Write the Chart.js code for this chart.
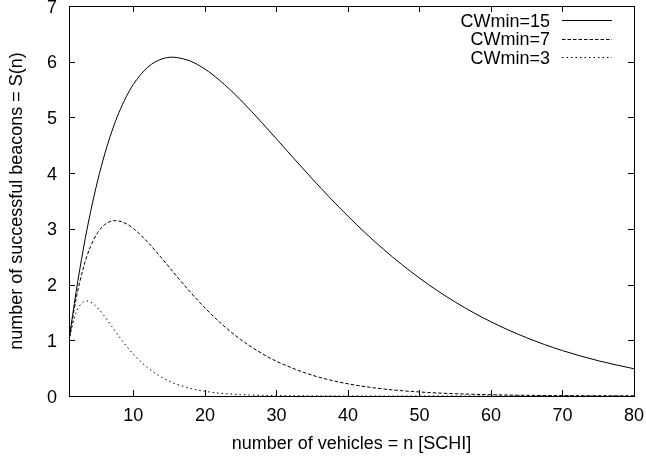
<!DOCTYPE html>
<html>
<head>
<meta charset="utf-8">
<script src="https://cdn.jsdelivr.net/npm/chart.js@4.4.1/dist/chart.umd.min.js"></script>
<style>
  html, body { margin: 0; padding: 0; background: #fff; }
  #wrap { width: 646px; height: 456px; position: relative; }
</style>
</head>
<body>
<div id="wrap"><canvas id="chart"></canvas></div>
<script>
// number of vehicles n (x axis)
const nValues = [1, 2, 3, 3.5, 4, 5, 6, 7, 7.5, 8, 9, 10, 12, 14, 15.5, 16, 18, 20, 22, 25, 28, 30,
                 35, 40, 45, 50, 55, 60, 65, 70, 75, 80];

// successful beacons S(n)
const cw15 = [1, 1.875, 2.637, 2.979, 3.296, 3.862, 4.345, 4.753, 4.931, 5.092, 5.370, 5.594, 5.901, 6.050,
              6.081, 6.077, 6.009, 5.868, 5.673, 5.313, 4.901, 4.616, 3.900, 3.228, 2.630, 2.117, 1.686,
              1.332, 1.045, 0.815, 0.633, 0.489];
const cw7 = [1, 1.75, 2.297, 2.507, 2.680, 2.931, 3.077, 3.142, 3.148, 3.141, 3.092, 3.007, 2.762, 2.468,
             2.237, 2.159, 1.860, 1.582, 1.332, 1.014, 0.761, 0.624, 0.374, 0.219, 0.126, 0.072, 0.041,
             0.023, 0.012, 0.007, 0.004, 0.002];
const cw3 = [1, 1.5, 1.6875, 1.705, 1.6875, 1.582, 1.424, 1.246, 1.156, 1.068, 0.901, 0.751, 0.507, 0.333,
             0.239, 0.214, 0.135, 0.085, 0.052, 0.025, 0.012, 0.007, 0.002, 0, 0, 0, 0, 0, 0, 0, 0, 0];

const seriesLabels = ['CWmin=15', 'CWmin=7', 'CWmin=3'];
const xTicks = [10, 20, 30, 40, 50, 60, 70, 80];
const yTicks = [0, 1, 2, 3, 4, 5, 6, 7];

const FONT = "'Liberation Sans', Arial, sans-serif";

const toPoints = ys => nValues.map((x, i) => ({ x, y: ys[i] }));

const line = (label, ys, dash) => ({
    label,
    data: toPoints(ys),
    borderColor: '#000',
    borderWidth: 1,
    borderDash: dash,
    pointRadius: 0,
    fill: false,
    cubicInterpolationMode: 'monotone',
});

// gnuplot-like frame: box, inward ticks on all sides, tick labels, key, axis labels
const gnuplotFrame = {
    id: 'gnuplotFrame',
    afterDraw(chart) {
        const { ctx, chartArea: a, scales } = chart;
        const tick = 6;
        ctx.save();
        ctx.strokeStyle = '#000';
        ctx.fillStyle = '#000';
        ctx.lineWidth = 1;
        ctx.setLineDash([]);
        ctx.strokeRect(a.left + 0.5, a.top + 0.5, a.right - a.left, a.bottom - a.top);

        ctx.font = '18px ' + FONT;
        ctx.beginPath();
        ctx.textAlign = 'center';
        ctx.textBaseline = 'alphabetic';
        xTicks.forEach(v => {
            const px = scales.x.getPixelForValue(v);
            const x = Math.round(px) + 0.5;
            ctx.moveTo(x, a.bottom); ctx.lineTo(x, a.bottom - tick);
            ctx.moveTo(x, a.top); ctx.lineTo(x, a.top + tick);
            ctx.fillText(String(v), px, a.bottom + 25);
        });
        ctx.textAlign = 'right';
        yTicks.forEach(v => {
            const py = scales.y.getPixelForValue(v);
            const y = Math.round(py) + 0.5;
            ctx.moveTo(a.left, y); ctx.lineTo(a.left + tick, y);
            ctx.moveTo(a.right, y); ctx.lineTo(a.right - tick, y);
            ctx.fillText(String(v), a.left - 12, py + 6.5);
        });
        ctx.stroke();

        // key
        ctx.textAlign = 'right';
        chart.data.datasets.forEach((ds, i) => {
            const y = 20 + i * 18.5;
            ctx.fillText(ds.label, 550, y + 6.5);
            ctx.beginPath();
            ctx.setLineDash(ds.borderDash || []);
            ctx.moveTo(562, Math.round(y) + 0.5);
            ctx.lineTo(612, Math.round(y) + 0.5);
            ctx.stroke();
        });
        ctx.setLineDash([]);

        // axis labels
        ctx.textAlign = 'center';
        ctx.fillText('number of vehicles = n [SCHI]', (a.left + a.right) / 2, 449);
        ctx.translate(22, (a.top + a.bottom) / 2);
        ctx.rotate(-Math.PI / 2);
        ctx.fillText('number of successful beacons = S(n)', 0, 0);
        ctx.restore();
    },
};

new Chart(document.getElementById('chart'), {
    type: 'line',
    data: {
        datasets: [
            line(seriesLabels[0], cw15, []),
            line(seriesLabels[1], cw7, [3.5, 2]),
            line(seriesLabels[2], cw3, [1.5, 3]),
        ],
    },
    options: {
        responsive: true,
        maintainAspectRatio: false,
        animation: false,
        layout: { padding: { top: 6, right: 12, left: 0, bottom: 0 } },
        scales: {
            x: {
                type: 'linear',
                min: 1,
                max: 80,
                afterFit: s => { s.height = 60; },
                grid: { display: false, drawTicks: false },
                border: { display: false },
                ticks: { display: false },
            },
            y: {
                min: 0,
                max: 7,
                afterFit: s => { s.width = 69; },
                grid: { display: false, drawTicks: false },
                border: { display: false },
                ticks: { display: false },
            },
        },
        plugins: {
            legend: { display: false },
            tooltip: { enabled: false },
        },
    },
    plugins: [gnuplotFrame],
});
</script>
</body>
</html>
